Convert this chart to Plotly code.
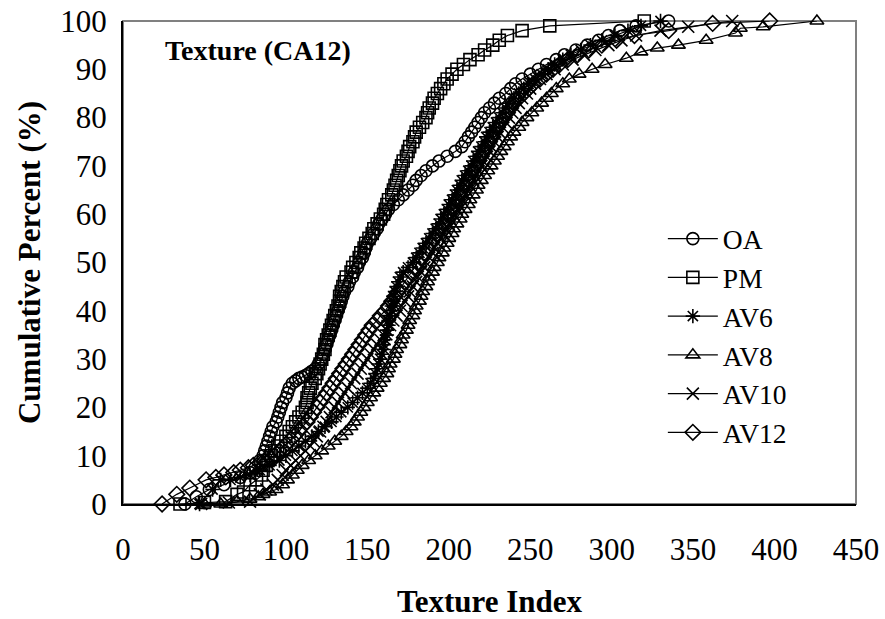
import plotly.graph_objects as go

# ---- data: (Texture Index, Cumulative Percent) ----
oa_pts = [(38,0),(45,1.5),(53,3),(62,4),(72,5.5),(78,6.5),(81,7.5),(84,9),(86,10),
          (87,11),(88,12),(89,13),(90,14),(91,15),(92,16),(94,17),(95,18),(96,19),(97,20),(98,21),(100,22),(101,23),(102,24),(104,25),
          (106,25.5),(108,26),(110,26.3),(112,26.6),(114,27),(116,27.5),(118,28),(120,29),(122,30),
          (123,31),(124,32),(125,33),(126,34),(127,35),(128,36),(129,37),(130,38),(131,39),(132,40),(133,41),(134,42),(135,43),(136,44),(138,45),(139,46),(141,47),(142,48),(144,49),(145,50),(147,51),(148,52),(149,53),(150,54),(152,55),
          (154,56),(156,57),(157,58),(159,59),(161,60),(163,61),(166,62),(169,63),(172,64),(175,65),(178,66),(180,67),(183,68),(186,69),(190,70),
          (194,71),(199,72),(204,73),(208,74),(210,75),(212,76),(214,77),(216,78),(218,79),(220,80),(222,81),(225,82),(228,83),(231,84),(235,85),(238,86),(241,87),(245,88),(250,89),(255,90),
          (260,91),(266,92),(271,93),(278,94),(285,95),(292,96),(298,97),(305,98),(315,99),(335,100)]

pm_pts = [(35,0),(50,0.3),(63,0.5),(70,2),(74,2.5),(78,4),(82,5),(85,6),(86,7),(88,8),(89,9),(91,10),(93,11),(95,12),(97,13),(100,14),(102,15),(104,16),(106,17),(108,18),(110,19),(112,20),(113,21),(113,22),(114,23),(115,24),(116,25),(118,26),(119,27),(120,28),(121,29),(122,30),(123,31),(124,32),(124,33),(125,34),(126,35),(127,36),(128,37),(129,38),(130,39),(131,40),(132,41),(133,42),(133,43),(134,44),(135,45),(136,46),(137,47),(140,48),(141,49),(143,50),(145,51),(146,52),(148,53),(149,54),(151,55),(153,56),(154,57),(156,58),(158,59),(160,60),(161,61),(162,62),(163,63),(165,64),(166,65),(167,66),(168,67),(169,68),(170,69),(171,70),(172,71),(174,72),(175,73),(176,74),(178,75),(179,76),(180,77),(182,78),(184,79),(186,80),(187,81),(188,82),(190,83),(191,84),(193,85),(195,86),(197,87),(199,88),(202,89),(205,90),(209,91),(213,92),(218,93),(222,94),(227,95),(231,96),(236,97),(245,98),(262,99),(320,100)]

av6_pts = [(47,0),(55,3),(60,5),(66,5),(72,5.5),(78,6),(84,7),(90,8),(96,9),(100,10),(104,11),(108,12),(112,13),(116,14),(120,15),(124,16),(128,17),(131,18),(134,19),(138,20),(141,21),(144,22),(147,23),(150,24),(152,25),(154,26),(155,27),(156,28),(157,29),(158,30),(159,31),(160,32),(160,33),(161,34),(162,35),(162,36),(163,37),(163,38),(164,39),(165,40),(165,41),(166,42),(166,43),(167,44),(168,45),(169,46),(170,47),(172,48),(175,49),(178,50),(180,51),(182,52),(184,53),(186,54),(188,55),(190,56),(192,57),(194,58),(195,59),(197,60),(199,61),(200,62),(202,63),(204,64),(205,65),(207,66),(208,67),(210,68),(212,69),(214,70),(215,71),(217,72),(218,73),(220,74),(222,75),(223,76),(225,77),(227,78),(229,79),(231,80),(233,81),(235,82),(237,83),(240,84),(243,85),(246,86),(249,87),(253,88),(257,89),(261,90),(265,91),(270,92),(275,93),(281,94),(287,95),(294,96),(302,97),(310,98),(318,99),(330,100)]

av8_pts = [(50,0),(60,0),(70,0.5),(78,1),(83,1.5),(86,2),(90,2.5),(94,3),(98,4),(101,5),(104,6),(107,7),(110,8),(114,9),(118,10),(122,11),(126,12),(130,13),(134,14),(137,15),(140,16),(142,17),(144,18),(146,19),(148,20),(150,21),(152,22),(154,23),(156,24),(158,25),(160,26),(162,27),(163,28),(164,29),(166,30),(167,31),(168,32),(170,33),(171,34),(172,35),(174,36),(175,37),(176,38),(178,39),(179,40),(180,41),(182,42),(183,43),(184,44),(186,45),(187,46),(188,47),(190,48),(191,49),(193,50),(194,51),(196,52),(197,53),(199,54),(200,55),(202,56),(203,57),(205,58),(207,59),(208,60),(210,61),(212,62),(213,63),(215,64),(217,65),(218,66),(220,67),(222,68),(224,69),(226,70),(228,71),(230,72),(232,73),(234,74),(236,75),(238,76),(240,77),(243,78),(245,79),(248,80),(251,81),(254,82),(257,83),(260,84),(263,85),(266,86),(270,87),(274,88),(280,89),(288,90),(296,91),(309,92.3),(318,93.6),(328,94.4),(341,95),(358,96),(376,97.5),(379,98.5),(393,98.8),(426,100)]

av10_pts = [(48,0),(65,0.3),(78,0.5),(84,2),(88,3),(92,4),(95,5),(98,6),(100,7),(103,8),(106,9),(109,10),(112,11),(115,12),(117,13),(119,14),(121,15),(123,16),(125,17),(127,18),(128,19),(130,20),(132,21),(134,22),(136,23),(138,24),(140,25),(142,26),(144,27),(146,28),(148,29),(150,30),(152,31),(154,32),(156,33),(158,34),(160,35),(162,36),(164,37),(166,38),(168,39),(170,40),(171,41),(173,42),(175,43),(176,44),(178,45),(180,46),(181,47),(183,48),(185,49),(186,50),(188,51),(190,52),(191,53),(193,54),(195,55),(196,56),(198,57),(200,58),(201,59),(203,60),(205,61),(206,62),(208,63),(210,64),(211,65),(213,66),(215,67),(216,68),(218,69),(220,70),(221,71),(223,72),(225,73),(226,74),(228,75),(230,76),(231,77),(233,78),(235,79),(237,80),(239,81),(241,82),(243,83),(245,84),(248,85),(250,86),(253,87),(256,88),(260,89),(265,90),(270,91),(276,92),(283,93),(290,94),(298,95),(306,96),(315,97),(330,98),(347,98.8),(374,100)]

av12_pts = [(24,0),(33,2),(41,3.3),(51,5),(57,5.5),(62,6),(68,6.5),(72,7),(77,7.5),(80,8),(84,8.5),(87,9),(91,9.5),(93,10),(96,11),(99,12),(102,13),(105,14),(108,15),(110,16),(113,17),(115,18),(117,19),(119,20),(121,21),(123,22),(125,23),(127,24),(129,25),(131,26),(133,27),(135,28),(137,29),(139,30),(141,31),(143,32),(145,33),(147,34),(149,35),(151,36),(153,37),(156,38),(158,39),(161,40),(163,41),(165,42),(167,43),(169,44),(171,45),(173,46),(175,47),(177,48),(179,49),(181,50),(183,51),(185,52),(187,53),(189,54),(191,55),(193,56),(195,57),(197,58),(199,59),(200,60),(202,61),(204,62),(205,63),(207,64),(208,65),(210,66),(212,67),(213,68),(215,69),(217,70),(218,71),(220,72),(222,73),(223,74),(225,75),(227,76),(228,77),(230,78),(232,79),(234,80),(236,81),(238,82),(240,83),(243,84),(246,85),(249,86),(252,87),(256,88),(260,89),(264,90),(268,91),(273,92),(279,93),(286,94),(294,95),(303,96),(314,97),(335,98),(362,99.5),(397,100)]

series_names = ["OA", "PM", "AV6", "AV8", "AV10", "AV12"]
series_pts = [oa_pts, pm_pts, av6_pts, av8_pts, av10_pts, av12_pts]
symbols = ["circle-open", "square-open", "asterisk-open", "triangle-up-open", "x-thin-open", "diamond-open"]

x_ticks = [0, 50, 100, 150, 200, 250, 300, 350, 400, 450]
y_ticks = [0, 10, 20, 30, 40, 50, 60, 70, 80, 90, 100]

FONT = "Liberation Serif, Times New Roman, serif"

fig = go.Figure()
for name, pts, sym in zip(series_names, series_pts, symbols):
    xs = [p[0] for p in pts]
    ys = [p[1] for p in pts]
    fig.add_trace(go.Scatter(
        x=xs, y=ys, name=name, mode="lines+markers",
        line=dict(color="black", width=1.2),
        marker=dict(symbol=sym, size=12, color="black",
                    line=dict(color="black", width=1.6)),
        cliponaxis=False,
    ))

fig.update_layout(
    template="none",
    width=885, height=619,
    margin=dict(l=123, r=29, t=21, b=115, autoexpand=False),
    paper_bgcolor="white", plot_bgcolor="white",
    font=dict(family=FONT, size=31, color="black"),
    showlegend=True,
    legend=dict(x=0.7365, y=0.6, xanchor="left", yanchor="top",
                bgcolor="rgba(0,0,0,0)", font=dict(size=27.5, family=FONT),
                itemwidth=50),
    annotations=[dict(text="<b>Texture (CA12)</b>", x=0.055, y=0.938,
                      xref="paper", yref="paper", xanchor="left", yanchor="middle",
                      showarrow=False, font=dict(size=28, family=FONT))],
    shapes=[dict(type="rect", xref="paper", yref="paper", x0=0, y0=0, x1=1, y1=1,
                 line=dict(color="#808080", width=2), layer="below")],
)
fig.update_xaxes(range=[0, 450], tickvals=x_ticks, showgrid=False, zeroline=False,
                 automargin=False,
                 showline=True, linecolor="black", linewidth=2,
                 ticks="outside", ticklen=17, tickcolor="rgba(0,0,0,0)",
                 tickfont=dict(size=31, family=FONT),
                 title=dict(text="<b>Texture Index</b>", standoff=32,
                            font=dict(size=31, family=FONT)))
fig.update_yaxes(range=[0, 100], tickvals=y_ticks, showgrid=False, zeroline=False,
                 automargin=False,
                 showline=True, linecolor="black", linewidth=2,
                 ticks="outside", ticklen=8, tickcolor="rgba(0,0,0,0)",
                 tickfont=dict(size=31, family=FONT),
                 title=dict(text="<b>Cumulative Percent (%)</b>", standoff=10,
                            font=dict(size=31, family=FONT)))

fig.write_html("out.html")
